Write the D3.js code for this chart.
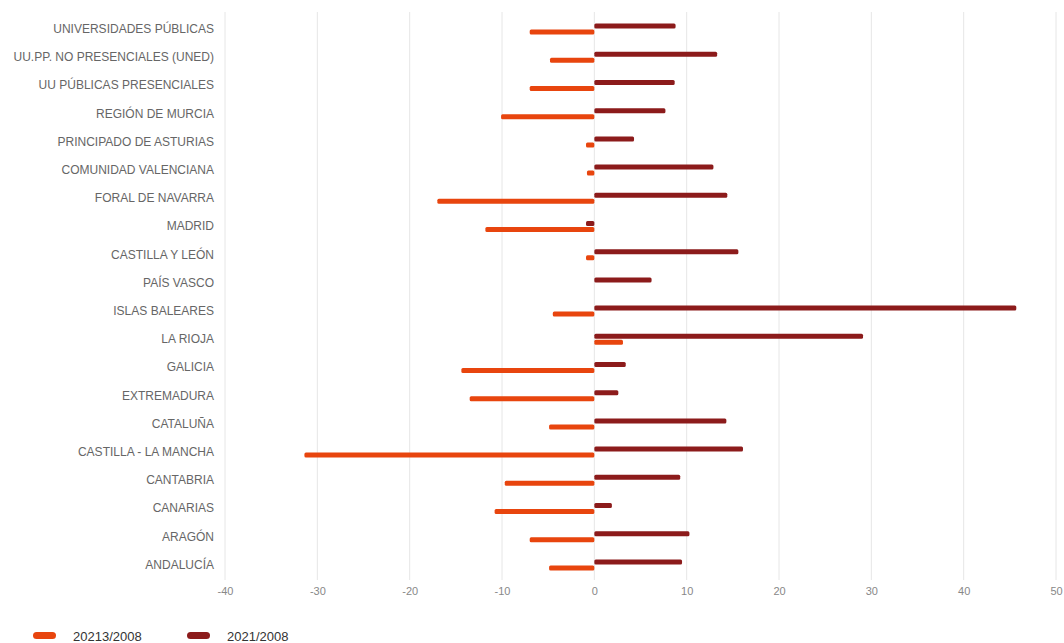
<!DOCTYPE html>
<html>
<head>
<meta charset="utf-8">
<script src="https://cdn.jsdelivr.net/npm/d3@7"></script>
<style>
  html, body { margin: 0; padding: 0; background: #fff; }
  svg { display: block; font-family: "Liberation Sans", Arial, sans-serif; }
</style>
</head>
<body>
<svg id="chart" width="1064" height="643"></svg>
<script>
const categories = [
  "UNIVERSIDADES PÚBLICAS",
  "UU.PP. NO PRESENCIALES (UNED)",
  "UU PÚBLICAS PRESENCIALES",
  "REGIÓN DE MURCIA",
  "PRINCIPADO DE ASTURIAS",
  "COMUNIDAD VALENCIANA",
  "FORAL DE NAVARRA",
  "MADRID",
  "CASTILLA Y LEÓN",
  "PAÍS VASCO",
  "ISLAS BALEARES",
  "LA RIOJA",
  "GALICIA",
  "EXTREMADURA",
  "CATALUÑA",
  "CASTILLA - LA MANCHA",
  "CANTABRIA",
  "CANARIAS",
  "ARAGÓN",
  "ANDALUCÍA"
];
const series2013 = [-7.0, -4.8, -7.0, -10.1, -0.9, -0.8, -17.0, -11.8, -0.9, 0, -4.5, 3.1, -14.4, -13.5, -4.9, -31.4, -9.7, -10.8, -7.0, -4.9];
const series2021 = [8.8, 13.3, 8.7, 7.7, 4.3, 12.9, 14.4, -0.9, 15.6, 6.2, 45.7, 29.1, 3.4, 2.6, 14.3, 16.1, 9.3, 1.9, 10.3, 9.5];
const seriesNames = ["20213/2008", "2021/2008"];
const seriesColors = ["#E8450E", "#8C1B1B"];
const xTicks = [-40, -30, -20, -10, 0, 10, 20, 30, 40, 50];

const svg = d3.select("#chart");
const x = d3.scaleLinear().domain([-40, 50]).range([225, 1056]);
const y = d3.scaleBand().domain(categories).range([15, 579]);

// gridlines
svg.append("g").selectAll("line").data(xTicks).join("line")
  .attr("x1", d => x(d)).attr("x2", d => x(d))
  .attr("y1", 12).attr("y2", 580)
  .attr("stroke", "#e6e6e6").attr("stroke-width", 1);

// x axis labels
const xAxis = d3.axisBottom(x).tickValues(xTicks).tickSize(0).tickPadding(0)
  .tickFormat(d => String(d));
const gx = svg.append("g").attr("transform", "translate(0,587)").call(xAxis);
gx.select(".domain").remove();
gx.selectAll("text").attr("fill", "#888").style("font-size", "11px")
  .style("font-family", "'Liberation Sans', Arial, sans-serif");

// y labels
const yAxis = d3.axisLeft(y).tickSize(0).tickPadding(0);
const gy = svg.append("g").attr("transform", "translate(214,0)").call(yAxis);
gy.select(".domain").remove();
gy.selectAll("text").attr("fill", "#666").style("font-size", "12px")
  .style("font-family", "'Liberation Sans', Arial, sans-serif");

const barH = 5;
const mid = d => y(d) + y.bandwidth() / 2;

// 2013 bars (lower)
svg.append("g").selectAll("rect").data(categories).join("rect")
  .attr("x", (d, i) => x(Math.min(0, series2013[i])))
  .attr("width", (d, i) => Math.abs(x(series2013[i]) - x(0)))
  .attr("y", d => mid(d) + 3 - barH / 2)
  .attr("height", barH)
  .attr("rx", 1.5)
  .attr("fill", seriesColors[0]);

// 2021 bars (upper)
svg.append("g").selectAll("rect").data(categories).join("rect")
  .attr("x", (d, i) => x(Math.min(0, series2021[i])))
  .attr("width", (d, i) => Math.abs(x(series2021[i]) - x(0)))
  .attr("y", d => mid(d) - 3 - barH / 2)
  .attr("height", barH)
  .attr("rx", 1.5)
  .attr("fill", seriesColors[1]);

// legend
const legend = svg.append("g");
const lx = [33, 187];
seriesNames.forEach((name, i) => {
  legend.append("rect")
    .attr("x", lx[i]).attr("y", 632).attr("width", 23).attr("height", 7)
    .attr("rx", 3.5).attr("fill", seriesColors[i]);
  legend.append("text")
    .attr("x", lx[i] + 40).attr("y", 641)
    .attr("fill", "#333").style("font-size", "13px")
    .text(name);
});
</script>
</body>
</html>
